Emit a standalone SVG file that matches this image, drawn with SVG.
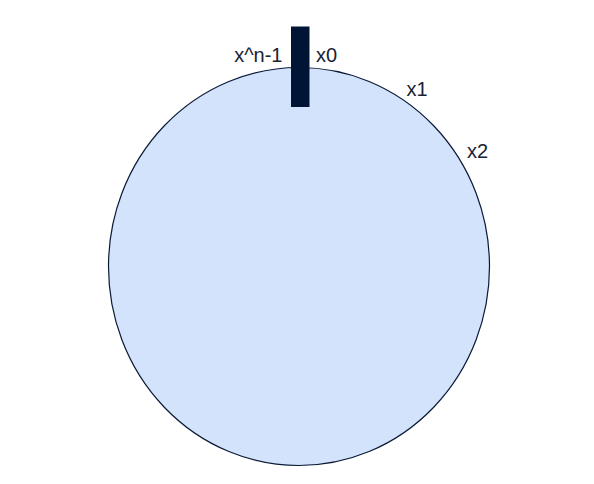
<svg xmlns="http://www.w3.org/2000/svg" width="594" height="484" viewBox="0 0 594 484">
<style>
.lbl{font-family:"Liberation Sans",Arial,sans-serif;font-size:20px;fill:#1a2236}
</style>
<rect width="594" height="484" fill="#ffffff"/>
<g id="ring">
<ellipse cx="299" cy="266.5" rx="190.5" ry="199" fill="#d4e3fc" stroke="#0a1a36" stroke-width="1.2"/>
</g>
<g id="marker-bar">
<rect x="291" y="26.5" width="18.5" height="80.5" fill="#001536"/>
</g>
<g id="labels">
<text class="lbl" x="282.5" y="62" text-anchor="end">x^n-1</text>
<text class="lbl" x="316" y="62">x0</text>
<text class="lbl" x="406.5" y="96">x1</text>
<text class="lbl" x="467" y="157.5">x2</text>
</g>
</svg>
